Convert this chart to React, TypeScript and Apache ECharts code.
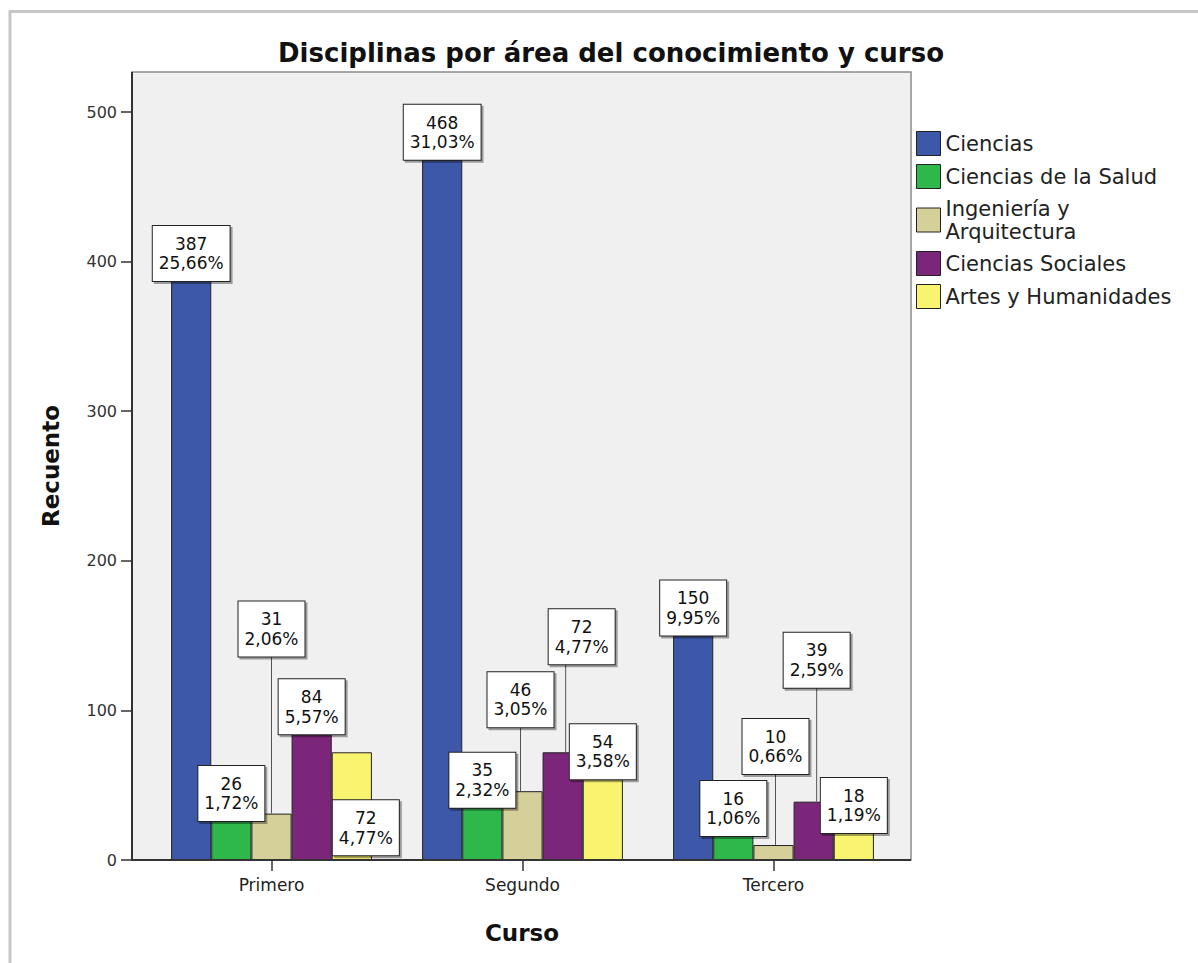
import React, { useEffect, useRef } from "react";
import * as echarts from "echarts";

const cursos = ["Primero", "Segundo", "Tercero"];
const areas = [
  "Ciencias",
  "Ciencias de la Salud",
  "Ingeniería y Arquitectura",
  "Ciencias Sociales",
  "Artes y Humanidades",
];
const ciencias = [387, 468, 150];
const salud = [26, 35, 16];
const ingenieria = [31, 46, 10];
const sociales = [84, 72, 39];
const artes = [72, 54, 18];
const pctCiencias = [25.66, 31.03, 9.95];
const pctSalud = [1.72, 2.32, 1.06];
const pctIngenieria = [2.06, 3.05, 0.66];
const pctSociales = [5.57, 4.77, 2.59];
const pctArtes = [4.77, 3.58, 1.19];
const yTicks = [0, 100, 200, 300, 400, 500];

const values = [ciencias, salud, ingenieria, sociales, artes];
const pcts = [pctCiencias, pctSalud, pctIngenieria, pctSociales, pctArtes];
const colors = ["#3d57a9", "#2eb84b", "#d5cf99", "#7c267b", "#f9f46f"];
// label box shift (px) from its default place on top of the bar: [dx, dy]
const labelShift = [
  [[0, 0], [0, 0], [0, 0]],
  [[0, 0], [0, 0], [0, 0]],
  [[0, -157], [-2, -64], [2, -71]],
  [[0, 0], [19, -88], [3, -114]],
  [[14, 103], [0, 0], [0, 0]],
];

const FONT = "DejaVu Sans";
const fmtPct = (p: number) => p.toFixed(2).replace(".", ",") + "%";

export default function App() {
  const ref = useRef<HTMLDivElement>(null);
  useEffect(() => {
    if (!ref.current) return;
    const chart = echarts.init(ref.current, null, { renderer: "svg" });

    const barSeries = areas.map((name, s) => ({
      type: "bar",
      name,
      data: values[s],
      barGap: "0%",
      barCategoryGap: "20%",
      itemStyle: { color: colors[s], borderColor: "#222", borderWidth: 1 },
      emphasis: { disabled: true },
      z: 2,
    }));

    const labelItems: any[] = [];
    areas.forEach((_, s) => {
      cursos.forEach((__, c) => {
        labelItems.push({
          value: [c, values[s][c], s, labelShift[s][c][0], labelShift[s][c][1]],
          pctText: fmtPct(pcts[s][c]),
        });
      });
    });

    const labelSeries = {
      type: "custom",
      name: "labels",
      data: labelItems.map((d) => d.value),
      z: 5,
      silent: true,
      renderItem: (params: any, api: any) => {
        const c = api.value(0);
        const v = api.value(1);
        const s = api.value(2);
        const dx = api.value(3);
        const dy = api.value(4);
        const top = api.coord([c, v]);
        const band = api.size([1, 0])[0];
        const barW = (band * 0.8) / 5;
        const cx = top[0] + (s - 2) * barW;
        const by = top[1] + dy;
        const bx = cx + dx;
        const children: any[] = [];
        if (dy < -10) {
          const lx = cx + Math.max(-3, Math.min(3, dx));
          children.push({
            type: "line",
            shape: { x1: lx, y1: by, x2: lx, y2: top[1] },
            style: { stroke: "#555", lineWidth: 1 },
          });
        }
        children.push({
          type: "text",
          x: bx,
          y: by,
          style: {
            text: `${v}\n${labelItems[params.dataIndex].pctText}`,
            fontFamily: FONT,
            fontSize: 17,
            lineHeight: 19.5,
            fill: "#111",
            align: "center",
            verticalAlign: "bottom",
            backgroundColor: "#ffffff",
            borderColor: "#222",
            borderWidth: 1,
            padding: [8, 6, 8, 6],
            shadowColor: "rgba(0,0,0,0.35)",
            shadowOffsetX: 2,
            shadowOffsetY: 2,
            shadowBlur: 0,
          },
        });
        return { type: "group", children };
      },
    };

    chart.setOption({
      animation: false,
      backgroundColor: "#ffffff",
      grid: { left: 146, right: 299, top: 112, bottom: 103 },
      legend: {
        orient: "vertical",
        left: 911,
        top: 126,
        itemWidth: 24,
        itemHeight: 24,
        itemGap: 8,
        icon: "rect",
        selectedMode: false,
        data: areas,
        formatter: (n: string) =>
          n === "Ingeniería y Arquitectura" ? "Ingeniería y\nArquitectura" : n,
        textStyle: { fontFamily: FONT, fontSize: 21, color: "#222", lineHeight: 23 },
        itemStyle: { borderColor: "#222", borderWidth: 1 },
      },
      xAxis: {
        type: "category",
        data: cursos,
        axisLine: { show: false },
        axisTick: { show: true, alignWithLabel: true, length: 11, lineStyle: { color: "#333", width: 1.5 } },
        axisLabel: { fontFamily: FONT, fontSize: 17, color: "#222", margin: 16 },
      },
      yAxis: {
        type: "value",
        min: yTicks[0],
        max: yTicks[yTicks.length - 1],
        interval: yTicks[1] - yTicks[0],
        offset: 14,
        axisLine: { show: false },
        axisTick: { show: true, length: 11, lineStyle: { color: "#333", width: 1.5 } },
        axisLabel: { fontFamily: FONT, fontSize: 16, color: "#333", margin: 15 },
        splitLine: { show: false },
      },
      graphic: [
        {
          type: "rect",
          z: -10,
          shape: { x: 10, y: 11.5, width: 1300, height: 1000 },
          style: { fill: "#ffffff", stroke: "#c6c6c6", lineWidth: 3 },
        },
        {
          type: "rect",
          z: -5,
          shape: { x: 132, y: 72, width: 779, height: 788 },
          style: { fill: "#f0f0f0", stroke: "#8c8c8c", lineWidth: 1.5 },
        },
        {
          type: "line",
          z: 10,
          shape: { x1: 132, y1: 72, x2: 132, y2: 861 },
          style: { stroke: "#333", lineWidth: 2 },
        },
        {
          type: "line",
          z: 10,
          shape: { x1: 131, y1: 860, x2: 911, y2: 860 },
          style: { stroke: "#333", lineWidth: 2 },
        },
        {
          type: "text",
          x: 611,
          y: 53,
          style: {
            text: "Disciplinas por área del conocimiento y curso",
            fontFamily: FONT,
            fontWeight: "bold",
            fontSize: 26,
            fill: "#111",
            align: "center",
            verticalAlign: "middle",
          },
        },
        {
          type: "text",
          x: 51,
          y: 466,
          rotation: Math.PI / 2,
          style: {
            text: "Recuento",
            fontFamily: FONT,
            fontWeight: "bold",
            fontSize: 23,
            fill: "#111",
            align: "center",
            verticalAlign: "middle",
          },
        },
        {
          type: "text",
          x: 522,
          y: 933,
          style: {
            text: "Curso",
            fontFamily: FONT,
            fontWeight: "bold",
            fontSize: 23,
            fill: "#111",
            align: "center",
            verticalAlign: "middle",
          },
        },
      ],
      series: [...barSeries, labelSeries],
    });
    return () => chart.dispose();
  }, []);
  return (
    <div
      ref={ref}
      style={{ position: "absolute", left: 0, top: 0, width: 1198, height: 963 }}
    />
  );
}
